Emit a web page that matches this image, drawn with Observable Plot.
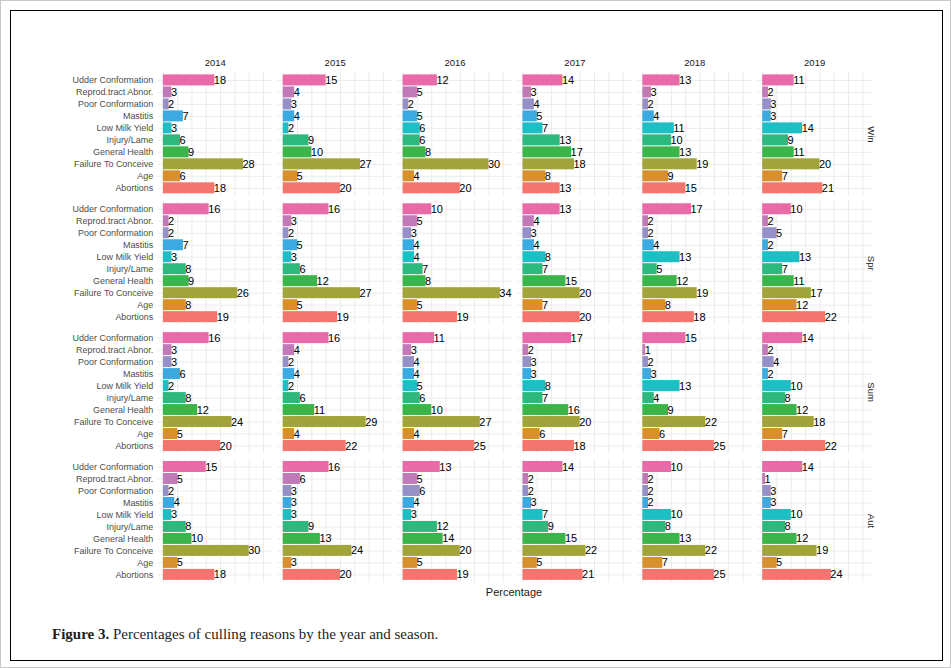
<!DOCTYPE html>
<html><head><meta charset="utf-8">
<script src="https://cdn.jsdelivr.net/npm/d3@7"></script>
<script src="https://cdn.jsdelivr.net/npm/@observablehq/plot@0.6"></script>
<style>
html,body{margin:0;padding:0;background:#fff;}
#wrap{position:relative;width:951px;height:668px;overflow:hidden;border:1px solid #c8c8c8;box-sizing:border-box;}
#frame{position:absolute;left:9px;top:9px;width:933px;height:651px;border:1px solid #000;box-sizing:border-box;}
#chart{position:absolute;left:-1px;top:-1px;}
#xlabel{position:absolute;left:413px;width:200px;top:585px;text-align:center;font:11px 'Liberation Sans',Arial,sans-serif;color:#1A1A1A;}
#caption{position:absolute;left:51px;top:625px;font:15px 'Liberation Serif','DejaVu Serif',serif;color:#231F20;}
</style></head>
<body>
<div id="wrap">
  <div id="frame"></div>
  <div id="chart"></div>
  <div id="xlabel">Percentage</div>
  <div id="caption"><b>Figure 3.</b> Percentages of culling reasons by the year and season.</div>
</div>
<script>
const categories = ["Udder Conformation","Reprod.tract Abnor.","Poor Conformation","Mastitis","Low Milk Yield","Injury/Lame","General Health","Failure To Conceive","Age","Abortions"];
const colors = ["#E96AA8","#C07AB8","#9690C8","#3AAAE0","#1DBFC4","#2DB87E","#3BB54A","#A0A43A","#D8902E","#F4756D"];
const years = ["2014","2015","2016","2017","2018","2019"];
const seasons = ["Win","Spr","Sum","Aut"];
// values per year (rows) in category order
const win = [
  [18,3,2,7,3,6,9,28,6,18],
  [15,4,3,4,2,9,10,27,5,20],
  [12,5,2,5,6,6,8,30,4,20],
  [14,3,4,5,7,13,17,18,8,13],
  [13,3,2,4,11,10,13,19,9,15],
  [11,2,3,3,14,9,11,20,7,21]
];
const spr = [
  [16,2,2,7,3,8,9,26,8,19],
  [16,3,2,5,3,6,12,27,5,19],
  [10,5,3,4,4,7,8,34,5,19],
  [13,4,3,4,8,7,15,20,7,20],
  [17,2,2,4,13,5,12,19,8,18],
  [10,2,5,2,13,7,11,17,12,22]
];
const sum = [
  [16,3,3,6,2,8,12,24,5,20],
  [16,4,2,4,2,6,11,29,4,22],
  [11,3,4,4,5,6,10,27,4,25],
  [17,2,3,3,8,7,16,20,6,18],
  [15,1,2,3,13,4,9,22,6,25],
  [14,2,4,2,10,8,12,18,7,22]
];
const aut = [
  [15,5,2,4,3,8,10,30,5,18],
  [16,6,3,3,3,9,13,24,3,20],
  [13,5,6,4,3,12,14,20,5,19],
  [14,2,2,3,7,9,15,22,5,21],
  [10,2,2,2,10,8,13,22,7,25],
  [14,1,3,3,10,8,12,19,5,24]
];
const gridX = [0,5,10,15,20,25,30,35];

const bySeason = {Win: win, Spr: spr, Sum: sum, Aut: aut};
const rows = [];
for (const s of seasons) {
  bySeason[s].forEach((vals, yi) => {
    vals.forEach((v, ci) => rows.push({season: s, year: years[yi], cat: categories[ci], value: v}));
  });
}

const chart = Plot.plot({
  width: 951, height: 610,
  marginTop: 71.5, marginBottom: 26.5, marginLeft: 157, marginRight: 79,
  style: {fontFamily: "'Liberation Sans', Arial, sans-serif", fontSize: "9px", color: "#4D4D4D", background: "transparent"},
  fx: {domain: years, paddingInner: 0.05, paddingOuter: 0, label: null},
  fy: {domain: seasons, paddingInner: 0.039, paddingOuter: 0, label: null},
  x: {domain: [-1.75, 38.05], axis: null},
  y: {domain: categories, paddingInner: 0.1, paddingOuter: 0.15, label: null},
  color: {domain: categories, range: colors},
  marks: [
    Plot.ruleX(gridX, {stroke: "#EBEBEB", strokeWidth: 1}),
    Plot.ruleY(categories, {stroke: "#EBEBEB", strokeWidth: 1}),
    Plot.barX(rows, {x: "value", y: "cat", fx: "year", fy: "season", fill: "cat"}),
    Plot.text(rows, {x: "value", y: "cat", fx: "year", fy: "season", text: d => String(d.value), textAnchor: "start", dx: -1, fill: "#000", fontSize: 11}),
    Plot.axisY({anchor: "left", tickSize: 0, tickPadding: 5, label: null, color: "#4D4D4D", fontSize: 9}),
    Plot.axisFx({anchor: "top", tickSize: 0, tickPadding: 6, label: null, color: "#1A1A1A", fontSize: 9.5}),
    Plot.axisFy({anchor: "right", tickSize: 0, tickPadding: 3, tickRotate: 90, label: null, color: "#1A1A1A", fontSize: 9.5})
  ]
});
document.getElementById("chart").appendChild(chart);
</script>
</body></html>
